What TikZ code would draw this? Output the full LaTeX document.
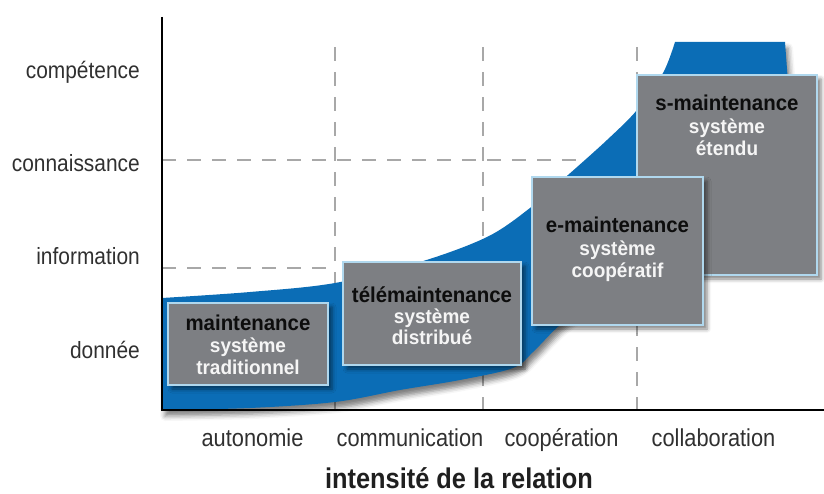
\documentclass[tikz,border=0pt]{standalone}
\usepackage{fontspec}
\setmainfont{Liberation Sans}[FakeStretch=0.89]
\newfontfamily\boxfont{Liberation Sans}[FakeStretch=0.95]
\usetikzlibrary{shadows.blur}
\definecolor{bandblue}{HTML}{0B6DB6}
\definecolor{boxgray}{HTML}{7D7F83}
\definecolor{boxedge}{HTML}{B0D8EE}
\definecolor{gridgray}{HTML}{A8A8A8}
\definecolor{labelgray}{HTML}{303030}
\begin{document}
\begin{tikzpicture}[x=1pt,y=-1pt,
  gridline/.style={draw=gridgray, line width=1.2pt, dash pattern=on 14pt off 11pt},
  axisline/.style={draw=black, line width=1.3pt},
  bandfill/.style={fill=bandblue, blur shadow={shadow xshift=3pt, shadow yshift=-6pt, shadow blur radius=5pt, shadow opacity=50}},
  stage/.style={draw=boxedge, line width=1.4pt, fill=boxgray, rectangle, inner sep=0pt,
    blur shadow={shadow xshift=4pt, shadow yshift=-4pt, shadow blur radius=4pt, shadow opacity=50}},
  titletxt/.style={anchor=base, inner sep=0pt, text=black!95, font=\boxfont\bfseries\fontsize{21.5}{24}\selectfont},
  subtxt/.style={anchor=base, inner sep=0pt, text=white!96!black, font=\boxfont\bfseries\fontsize{20}{22}\selectfont},
  ylab/.style={anchor=base east, inner sep=0pt, text=labelgray, font=\fontsize{23.5}{26}\selectfont},
  xlab/.style={anchor=base, inner sep=0pt, text=labelgray, font=\fontsize{24.5}{27}\selectfont},
  axtitle/.style={anchor=base, inner sep=0pt, text=black!88, font=\bfseries\fontsize{28.5}{31}\selectfont},
]
\useasboundingbox (0,0) rectangle (824,494);

% grid
\coordinate (va top) at (335,47); \coordinate (va bot) at (335,410);
\coordinate (vb top) at (483,47); \coordinate (vb bot) at (483,410);
\coordinate (vc top) at (637,47); \coordinate (vc bot) at (637,410);
\coordinate (h1s) at (162,160); \coordinate (h1e) at (637,160);
\coordinate (h2s) at (162,268); \coordinate (h2e) at (335,268);
\draw[gridline] (va top) -- (va bot);
\draw[gridline] (vb top) -- (vb bot);
\draw[gridline] (vc top) -- (vc bot);
\draw[gridline] (h1s) -- (h1e);
\draw[gridline] (h2s) -- (h2e);

% blue band
\path[bandfill] (162,410)
  -- plot[smooth, tension=0.55] coordinates {(162,298) (250,292) (335,283) (420,262) (487,237) (530,208) (568,175) (607,140) (637,110) (663,73) (675,42)}
  -- (785,42) -- (790,110)
  -- plot[smooth, tension=0.55] coordinates {(790,150) (750,195) (700,240) (640,277) (590,305) (560,325) (533,352) (513,368) (460,380) (400,390) (335,402) (250,408) (162,410)}
  -- cycle;

% axes
\coordinate (O) at (162,410);
\coordinate (Ytop) at (162,17);
\coordinate (Xend) at (824,410);
\draw[axisline] (Ytop) -- (O) -- (Xend);

% boxes (s-maintenance lies beneath e-maintenance)
\node[stage, minimum width=180pt, minimum height=200pt] (b4) at (727,175) {};
\node[titletxt] (b4t) at (727,111) {s-maintenance};
\node[subtxt] (b4a) at (727,134) {système};
\node[subtxt] (b4b) at (727,156) {étendu};

\node[stage, minimum width=171pt, minimum height=148pt] (b3) at (617.5,251) {};
\node[titletxt] (b3t) at (617.5,233) {e-maintenance};
\node[subtxt] (b3a) at (617.5,256) {système};
\node[subtxt] (b3b) at (617.5,277) {coopératif};

\node[stage, minimum width=178pt, minimum height=103pt] (b2) at (432,313.5) {};
\node[titletxt] (b2t) at (432,302) {télémaintenance};
\node[subtxt] (b2a) at (432,323) {système};
\node[subtxt] (b2b) at (432,344) {distribué};

\node[stage, minimum width=160pt, minimum height=82pt] (b1) at (248,344) {};
\node[titletxt] (b1t) at (248,330) {maintenance};
\node[subtxt] (b1a) at (248,352) {système};
\node[subtxt] (b1b) at (248,374) {traditionnel};

% y labels
\node[ylab] (y1) at (140,79) {compétence};
\node[ylab] (y2) at (140,172) {connaissance};
\node[ylab] (y3) at (140,265) {information};
\node[ylab] (y4) at (140,358) {donnée};

% x labels
\node[xlab] (x1) at (252.5,446) {autonomie};
\node[xlab] (x2) at (410,446) {communication};
\node[xlab] (x3) at (561.5,446) {coopération};
\node[xlab] (x4) at (713.5,446) {collaboration};

\node[axtitle] (xt) at (459,488) {intensité de la relation};
\end{tikzpicture}
\end{document}
